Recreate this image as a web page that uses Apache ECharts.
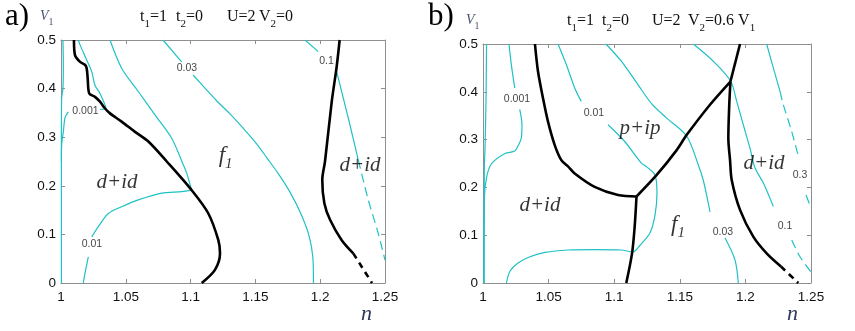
<!DOCTYPE html>
<html>
<head>
<meta charset="utf-8">
<script src="https://cdn.jsdelivr.net/npm/echarts@6/dist/echarts.min.js"></script>
<style>
  html, body { margin: 0; padding: 0; background: #fff; }
  #main { width: 855px; height: 331px; }
</style>
</head>
<body>
<div id="main"></div>
<script>
// axis ranges
const nMin = 1, nMax = 1.25, nStep = 0.05;
const vMin = 0, vMax = 0.5, vStep = 0.1;

// ---- panel a) V2 = 0 : phase boundaries [n, V1]
const aBoundLeft = [[1.0100,0.500],[1.0108,0.469],[1.0147,0.455],[1.0185,0.449],[1.0198,0.442],[1.0206,0.421],[1.0218,0.390],[1.0262,0.383],[1.0301,0.373],[1.0340,0.359],[1.0378,0.349],[1.0468,0.332],[1.0571,0.311],[1.0674,0.291],[1.0816,0.250],[1.1008,0.191],[1.1137,0.143],[1.1214,0.088],[1.1227,0.061],[1.1188,0.027],[1.1086,0]];
const aBoundRight = [[1.2150,0.500],[1.2127,0.445],[1.2089,0.373],[1.2037,0.250],[1.2016,0.212],[1.2032,0.164],[1.2076,0.130],[1.2166,0.088],[1.2255,0.061]];
const aBoundRightDash = [[1.2255,0.061],[1.2400,0]];

// panel a) gap contours
const aCAxis = [[1.0015,0.500],[1.0018,0.450],[1.0015,0.400],[1.0005,0.380],[1.0003,0.300],[1.0003,0]];
const aC0001Upper = [[1.0133,0.500],[1.0147,0.490],[1.0198,0.459],[1.0237,0.435],[1.0262,0.407],[1.0301,0.390],[1.0340,0.366],[1.0347,0.358]];
const aC0001Stub = [[1.0301,0.357],[1.0345,0.358]];
const aC0001Branch = [[1.0056,0.352],[1.0031,0.340],[1.0018,0.311],[1.0005,0.284],[1.0003,0.250]];
const aC001Top = [[1.0378,0.500],[1.0468,0.442],[1.0596,0.394],[1.0725,0.346],[1.0854,0.298],[1.0944,0.243],[1.0970,0.226],[1.1008,0.191]];
const aC001Left = [[1.1008,0.191],[1.0931,0.188],[1.0777,0.185],[1.0596,0.171],[1.0468,0.157],[1.0365,0.143],[1.0288,0.116],[1.0237,0.095]];
const aC001Low = [[1.0211,0.054],[1.0185,0.020],[1.0172,0]];
const aC003Top = [[1.0787,0.500],[1.0931,0.455]];
const aC003Low = [[1.1019,0.428],[1.1111,0.401],[1.1204,0.374],[1.1304,0.348],[1.1404,0.319],[1.1505,0.288],[1.1590,0.257],[1.1674,0.226],[1.1767,0.187],[1.1852,0.142],[1.1914,0.097],[1.1944,0.051],[1.1948,0]];
const aC01Top = [[1.1883,0.500],[1.1985,0.476]];
const aC01Low = [[1.2127,0.435],[1.2217,0.339],[1.2294,0.253]];
const aC01Dash = [[1.2294,0.253],[1.2371,0.171],[1.2448,0.102],[1.2500,0.047]];

const aContourLabels = [[1.0189,0.353,'0.001'],[1.0239,0.080,'0.01'],[1.0972,0.442,'0.03'],[1.2049,0.457,'0.1']];
const aRegionLabels = [[1.0432,0.206,'{t|d+id}'],[1.1270,0.258,'{f|f}{s|1}'],[1.2307,0.241,'{t|d+id}']];

// ---- panel b) V2 = 0.6 V1 : phase boundaries
const bBoundA = [[1.0396,0.500],[1.0419,0.443],[1.0457,0.387],[1.0495,0.338],[1.0546,0.289],[1.0597,0.257],[1.0648,0.244],[1.0699,0.229],[1.0851,0.201],[1.1029,0.184],[1.1170,0.181]];
const bBoundB = [[1.1170,0.181],[1.1156,0.118],[1.1136,0.062],[1.1092,0]];
const bBoundC = [[1.1170,0.181],[1.1324,0.226],[1.1476,0.278],[1.1553,0.310],[1.1730,0.373],[1.1886,0.4215]];
const bBoundD = [[1.1886,0.4215],[1.1959,0.500]];
const bBoundE = [[1.1886,0.4215],[1.1877,0.373],[1.1870,0.303],[1.1883,0.257],[1.1896,0.215],[1.1959,0.153],[1.2060,0.097],[1.2162,0.062],[1.2271,0.0345]];
const bBoundDash = [[1.2271,0.0345],[1.2403,0]];

// panel b) gap contours
const bCAxis = [[1.0027,0.500],[1.0023,0.383],[1.0015,0.278],[1.0010,0.240],[1.0008,0]];
const bC0001Top = [[1.0198,0.500],[1.0216,0.457],[1.0242,0.408]];
const bC0001Low = [[1.0280,0.363],[1.0297,0.331],[1.0292,0.303],[1.0267,0.287],[1.0242,0.276],[1.0168,0.271],[1.0066,0.250],[1.0028,0.222],[1.0010,0.174],[1.0008,0]];
const bC001Top = [[1.0572,0.500],[1.0635,0.457],[1.0699,0.408],[1.0749,0.380]];
const bC001Low = [[1.0953,0.331],[1.1080,0.296],[1.1207,0.251],[1.1248,0.243],[1.1311,0.226],[1.1326,0.188],[1.1311,0.142],[1.1273,0.105],[1.1197,0.079],[1.1143,0.065],[1.1052,0.069],[1.0854,0.070],[1.0648,0.069],[1.0473,0.064],[1.0358,0.055],[1.0267,0.042],[1.0206,0.025],[1.0179,0]];
const bC003Top = [[1.0937,0.500],[1.1054,0.464],[1.1181,0.415],[1.1288,0.374],[1.1400,0.345],[1.1553,0.307],[1.1641,0.247],[1.1679,0.215],[1.1717,0.167],[1.1730,0.149]];
const bC003Low = [[1.1845,0.094],[1.1921,0.048],[1.1946,0]];
const bC01Top = [[1.1603,0.500],[1.1755,0.464],[1.1888,0.422],[1.1934,0.380],[1.1984,0.331],[1.2035,0.282],[1.2073,0.241],[1.2137,0.209],[1.2213,0.160]];
const bC01Dash = [[1.2353,0.090],[1.2416,0.055],[1.2500,0.023]];
const bC03Top = [[1.2162,0.500],[1.2213,0.450],[1.2264,0.401]];
const bC03Dash = [[1.2264,0.401],[1.2289,0.373],[1.2353,0.317],[1.2401,0.268]];
const bC03Edge = [[1.2462,0.184],[1.2500,0.157]];

const bContourLabels = [[1.0259,0.385,'0.001'],[1.0846,0.356,'0.01'],[1.1829,0.107,'0.03'],[1.2302,0.119,'0.1'],[1.2416,0.226,'0.3']];
const bRegionLabels = [[1.1197,0.324,'{t|p+ip}'],[1.0434,0.163,'{t|d+id}'],[1.1486,0.117,'{f|f}{s|1}'],[1.2142,0.251,'{t|d+id}']];

const CYAN = '#1fc1c6';
const FRAME = '#8f8f8f';
const SERIF = 'Liberation Serif';
const SANS = 'Liberation Sans';

function curve(p, data, black, dashed) {
    return {
        type: 'line', xAxisIndex: p, yAxisIndex: p, data: data,
        symbol: 'none', smooth: 0.3, silent: true, z: black ? 5 : 3,
        lineStyle: {
            color: black ? '#000' : CYAN,
            width: black ? 2.6 : 1.2,
            type: dashed ? (black ? [6, 5] : [9, 5]) : 'solid'
        }
    };
}

function labels(p, data, font, rich) {
    return {
        type: 'scatter', xAxisIndex: p, yAxisIndex: p, data: data,
        symbolSize: 1, itemStyle: { color: 'rgba(0,0,0,0)' }, silent: true, z: 10,
        label: Object.assign({
            show: true, position: 'inside',
            formatter: d => d.data[2],
            color: '#111', rich: rich
        }, font)
    };
}
const contourFont = { fontFamily: SANS, fontSize: 10.5 };
const regionFont = { fontFamily: SERIF, fontStyle: 'italic', fontSize: 21 };

// subscripts: main token top-aligned, subscript bottom-aligned in the same line box
const regionRich = {
    t: { fontFamily: SERIF, fontStyle: 'italic', fontSize: 21, color: '#000', lineHeight: 22 },
    f: { fontFamily: SERIF, fontStyle: 'italic', fontSize: 23, color: '#000', lineHeight: 27, verticalAlign: 'top' },
    s: { fontFamily: SERIF, fontStyle: 'italic', fontSize: 15, color: '#000', lineHeight: 27, verticalAlign: 'bottom' }
};

function xAx(g, pos, showLabel) {
    return {
        type: 'value', gridIndex: g, position: pos, min: nMin, max: nMax, interval: nStep,
        axisLine: { show: true, onZero: false, lineStyle: { color: FRAME, width: 1 } },
        axisTick: { show: true, inside: true, length: 4, lineStyle: { color: FRAME } },
        axisLabel: { show: showLabel, color: '#111', fontFamily: SANS, fontSize: 13.5, margin: 7 },
        splitLine: { show: false }
    };
}
function yAx(g, pos, showLabel) {
    return {
        type: 'value', gridIndex: g, position: pos, min: vMin, max: vMax, interval: vStep,
        axisLine: { show: true, onZero: false, lineStyle: { color: FRAME, width: 1 } },
        axisTick: { show: true, inside: true, length: 4, lineStyle: { color: FRAME } },
        axisLabel: { show: showLabel, color: '#111', fontFamily: SANS, fontSize: 13.5, margin: 5 },
        splitLine: { show: false }
    };
}

const titleRich = {
    m: { fontFamily: SERIF, fontSize: 16, fill: '#111', lineHeight: 21, verticalAlign: 'top' },
    s: { fontFamily: SERIF, fontSize: 11, fill: '#111', lineHeight: 21, verticalAlign: 'bottom' }
};
const varRich = {
    v: { fontFamily: SERIF, fontStyle: 'italic', fontSize: 14, fill: '#4b5772', lineHeight: 18, verticalAlign: 'top' },
    s: { fontFamily: SERIF, fontSize: 10, fill: '#4b5772', lineHeight: 18, verticalAlign: 'bottom' }
};
function txt(x, y, text, rich) {
    return { type: 'text', left: x, top: y, silent: true, style: { text: text, rich: rich } };
}

const chart = echarts.init(document.getElementById('main'), null, { renderer: 'canvas' });
chart.setOption({
    animation: false,
    backgroundColor: '#fff',
    grid: [
        { left: 61, right: 470, top: 40, bottom: 48, outerBoundsMode: 'none' },
        { left: 483, right: 44, top: 44, bottom: 48, outerBoundsMode: 'none' }
    ],
    xAxis: [xAx(0, 'bottom', true), xAx(1, 'bottom', true), xAx(0, 'top', false), xAx(1, 'top', false)],
    yAxis: [yAx(0, 'left', true), yAx(1, 'left', true), yAx(0, 'right', false), yAx(1, 'right', false)],
    graphic: [
        { type: 'text', left: 5, top: 1, silent: true, style: { text: 'a)', fontFamily: SERIF, fontSize: 31, fill: '#000' } },
        { type: 'text', left: 428, top: 1, silent: true, style: { text: 'b)', fontFamily: SERIF, fontSize: 31, fill: '#000' } },
        txt(40, 9, '{v|V}{s|1}', varRich),
        txt(466, 13, '{v|V}{s|1}', varRich),
        txt(140, 9, '{m|t}{s|1}{m|=1}', titleRich),
        txt(176, 9, '{m|t}{s|2}{m|=0}', titleRich),
        txt(227, 9, '{m|U=2}', titleRich),
        txt(259, 9, '{m|V}{s|2}{m|=0}', titleRich),
        txt(567, 13, '{m|t}{s|1}{m|=1}', titleRich),
        txt(602, 13, '{m|t}{s|2}{m|=0}', titleRich),
        txt(652, 13, '{m|U=2}', titleRich),
        txt(688, 13, '{m|V}{s|2}{m|=0.6 V}{s|1}', titleRich),
        { type: 'text', left: 361, top: 303, silent: true, style: { text: 'n', fontFamily: SERIF, fontStyle: 'italic', fontSize: 22, fill: '#2e3a57' } },
        { type: 'text', left: 787, top: 303, silent: true, style: { text: 'n', fontFamily: SERIF, fontStyle: 'italic', fontSize: 22, fill: '#2e3a57' } }
    ],
    series: [
        curve(0, aCAxis), curve(0, aC0001Upper), curve(0, aC0001Stub), curve(0, aC0001Branch),
        curve(0, aC001Top), curve(0, aC001Left), curve(0, aC001Low),
        curve(0, aC003Top), curve(0, aC003Low),
        curve(0, aC01Top), curve(0, aC01Low), curve(0, aC01Dash, false, true),
        curve(0, aBoundLeft, true), curve(0, aBoundRight, true), curve(0, aBoundRightDash, true, true),
        labels(0, aContourLabels, contourFont), labels(0, aRegionLabels, regionFont, regionRich),

        curve(1, bCAxis), curve(1, bC0001Top), curve(1, bC0001Low),
        curve(1, bC001Top), curve(1, bC001Low),
        curve(1, bC003Top), curve(1, bC003Low),
        curve(1, bC01Top), curve(1, bC01Dash, false, true),
        curve(1, bC03Top), curve(1, bC03Dash, false, true), curve(1, bC03Edge, false, true),
        curve(1, bBoundA, true), curve(1, bBoundB, true), curve(1, bBoundC, true),
        curve(1, bBoundD, true), curve(1, bBoundE, true), curve(1, bBoundDash, true, true),
        labels(1, bContourLabels, contourFont), labels(1, bRegionLabels, regionFont, regionRich)
    ]
});
</script>
</body>
</html>
